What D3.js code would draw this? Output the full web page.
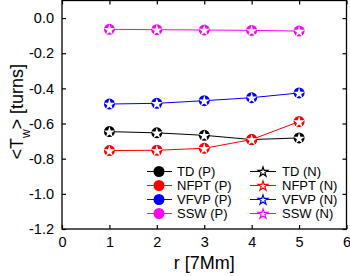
<!DOCTYPE html>
<html>
<head>
<meta charset="utf-8">
<script src="https://cdn.jsdelivr.net/npm/d3@7"></script>
<style>
  body { margin: 0; background: #fff; }
  text { font-family: "Liberation Sans", Arial, sans-serif; }
</style>
</head>
<body>
<div id="chart"></div>
<script>
const radii = [1, 2, 3, 4, 5];
const seriesNames = ["TD", "NFPT", "VFVP", "SSW"];
const seriesColors = ["#000000", "#ff0000", "#0000ff", "#ff00ff"];
const td = [-0.646, -0.653, -0.667, -0.691, -0.682];
const nfpt = [-0.754, -0.752, -0.741, -0.691, -0.589];
const vfvp = [-0.489, -0.485, -0.470, -0.453, -0.426];
const ssw = [-0.064, -0.066, -0.068, -0.070, -0.074];
const xTicks = [0, 1, 2, 3, 4, 5, 6];
const yTicks = [0.0, -0.2, -0.4, -0.6, -0.8, -1.0, -1.2];

const allSeries = [td, nfpt, vfvp, ssw];

const W = 350, H = 276;
const margin = { top: 0.5, right: 3.5, bottom: 47, left: 62 };
const width = W - margin.left - margin.right;
const height = H - margin.top - margin.bottom;

const svg = d3.select("#chart")
  .append("svg")
  .attr("width", W)
  .attr("height", H)
  .append("g")
  .attr("transform", `translate(${margin.left},${margin.top})`);

const x = d3.scaleLinear().domain([0, 6]).range([0, width]);
const y = d3.scaleLinear().domain([-1.2, 0.1]).range([height, 0]);

// frame
svg.append("rect")
  .attr("width", width).attr("height", height)
  .attr("fill", "none").attr("stroke", "#000").attr("stroke-width", 1.3);

// axes (ticks inward)
const styleAxis = g => {
  g.select(".domain").remove();
  g.selectAll("line").attr("stroke", "#000").attr("stroke-width", 1.2);
  g.selectAll("text").style("font-size", "14.5px").attr("fill", "#000");
};

svg.append("g")
  .attr("transform", `translate(0,${height})`)
  .call(d3.axisBottom(x).tickValues(xTicks).tickFormat(d3.format("d")).tickSizeInner(-4).tickPadding(8))
  .call(styleAxis);
svg.append("g")
  .call(d3.axisTop(x).tickValues(xTicks).tickFormat("").tickSizeInner(-4))
  .call(styleAxis);
svg.append("g")
  .call(d3.axisLeft(y).tickValues(yTicks).tickFormat(d3.format(".1f")).tickSizeInner(-4).tickPadding(8))
  .call(styleAxis);
svg.append("g")
  .attr("transform", `translate(${width},0)`)
  .call(d3.axisRight(y).tickValues(yTicks).tickFormat("").tickSizeInner(-4))
  .call(styleAxis);

// plain hyphen minus like the original
svg.selectAll("text").each(function() {
  const t = d3.select(this);
  t.text(t.text().replace("\u2212", "-"));
});

// axis labels
svg.append("text")
  .attr("x", width / 2)
  .attr("y", height + 40)
  .attr("text-anchor", "middle")
  .style("font-size", "18px")
  .text("r [7Mm]");

const ylab = svg.append("text")
  .attr("transform", `translate(-39,${height / 2 - 3}) rotate(-90)`)
  .attr("text-anchor", "middle")
  .style("font-size", "18px");
ylab.append("tspan").text("<T");
ylab.append("tspan").attr("baseline-shift", "sub").style("font-size", "12px").text("w");
ylab.append("tspan").text("> [turns]");

const star = d3.symbol().type(d3.symbolStar).size(40);
const starSmall = d3.symbol().type(d3.symbolStar).size(30);

const line = d3.line().x((d, i) => x(radii[i])).y(d => y(d));

allSeries.forEach((vals, s) => {
  const c = seriesColors[s];
  svg.append("path")
    .datum(vals)
    .attr("fill", "none")
    .attr("stroke", c)
    .attr("stroke-width", 1)
    .attr("d", line);

  const pts = svg.append("g").selectAll("g")
    .data(vals)
    .enter()
    .append("g")
    .attr("transform", (d, i) => `translate(${x(radii[i])},${y(d)})`);
  pts.append("circle").attr("r", 5.5).attr("fill", c);
  pts.append("path").attr("d", star).attr("fill", "#fff").attr("transform", "translate(0,0.6)");
});

// legend
const legend = svg.append("g");
seriesNames.forEach((name, s) => {
  const c = seriesColors[s];
  const ly = 171.5 + s * 14 - margin.top;
  // P column
  legend.append("line")
    .attr("x1", 147 - margin.left).attr("x2", 172 - margin.left)
    .attr("y1", ly).attr("y2", ly)
    .attr("stroke", c).attr("stroke-width", 1);
  legend.append("circle")
    .attr("cx", 159 - margin.left).attr("cy", ly).attr("r", 5.5).attr("fill", c);
  legend.append("text")
    .attr("x", 177 - margin.left).attr("y", ly + 4.5)
    .style("font-size", "13px")
    .text(`${name} (P)`);
  // N column
  legend.append("line")
    .attr("x1", 250 - margin.left).attr("x2", 276 - margin.left)
    .attr("y1", ly).attr("y2", ly)
    .attr("stroke", c).attr("stroke-width", 1);
  legend.append("path")
    .attr("d", starSmall)
    .attr("transform", `translate(${263 - margin.left},${ly + 0.5})`)
    .attr("fill", "#fff").attr("stroke", c).attr("stroke-width", 1.2);
  legend.append("text")
    .attr("x", 282 - margin.left).attr("y", ly + 4.5)
    .style("font-size", "13px")
    .text(`${name} (N)`);
});
</script>
</body>
</html>
